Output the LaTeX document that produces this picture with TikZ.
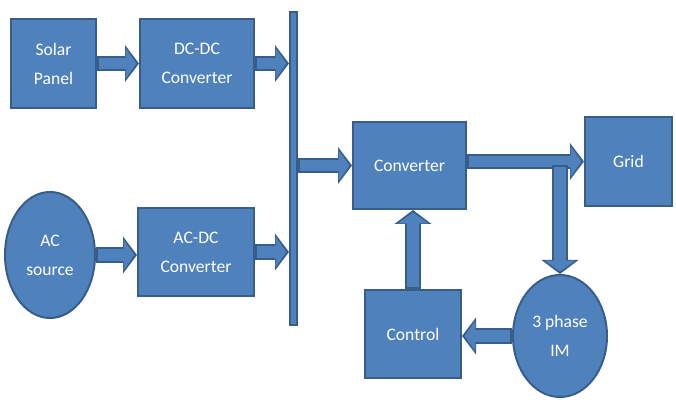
\documentclass[tikz,border=0pt]{standalone}
\usepackage{fontspec}
\setmainfont{Carlito}
\usetikzlibrary{positioning,shapes.geometric,arrows.meta}
\definecolor{boxblue}{HTML}{4F81BD}
\definecolor{edgeblue}{HTML}{385D8A}
\tikzset{
  block/.style={draw=edgeblue, line width=1pt, fill=boxblue, text=white, align=center, inner sep=0pt, font=\fontsize{8.8}{14.5}\selectfont},
  source/.style={block, ellipse},
  flowedge/.style={draw=edgeblue, line width=7.6pt, -{Triangle[length=7pt,width=18.5pt,line width=0pt]}},
  flowfill/.style={draw=boxblue, line width=5.8pt, shorten <=0.9pt, shorten >=1.3pt, -{Triangle[length=5.4pt,width=15.3pt,line width=0pt]}}
}
\newcommand{\flow}[2]{\draw[flowedge] #1 -- #2; \draw[flowfill] #1 -- #2;}

\begin{document}
\begin{tikzpicture}[x=0.5pt, y=-0.5pt]
\useasboundingbox (0,0) rectangle (676,400);
\node[block, minimum width=42.5pt, minimum height=44.5pt] (solar) at (53.5,63.5) {Solar\\Panel};
\node[block, minimum width=57pt, minimum height=44.5pt] (dcdc) at (197,63.5) {DC-DC\\Converter};
\node[source, minimum width=45pt, minimum height=63pt] (ac) at (50,255) {AC\\source};
\node[block, minimum width=58pt, minimum height=44pt] (acdc) at (196,252) {AC-DC\\Converter};
\node[block, minimum width=3.5pt, minimum height=156.5pt] (bus) at (293.5,168.5) {};
\node[block, minimum width=56.5pt, minimum height=43.5pt] (conv) at (409.5,165.5) {Converter};
\node[block, minimum width=43.5pt, minimum height=44.5pt] (grid) at (628.5,161.5) {Grid};
\node[block, minimum width=48pt, minimum height=44pt] (control) at (413,334) {Control};
\node[source, minimum width=47pt, minimum height=61pt] (im) at (560,336) {3 phase\\IM};
\coordinate[yshift=-2pt] (tap) at (grid.west -| im.north);
% power flow
\flow{(solar)}{(dcdc)}
\flow{(dcdc)}{(dcdc -| bus.west)}
\flow{(ac.east)}{(ac.east -| acdc.west)}
\flow{(acdc)}{(acdc -| bus.west)}
\flow{(bus.east |- conv)}{(conv)}
\flow{(conv.east |- grid)}{(grid.west)}
\flow{(tap)}{(im.north)}
% feedback
\flow{(im.west)}{(im.west -| control.east)}
\flow{(control.north)}{(control.north |- conv.south)}
\end{tikzpicture}
\end{document}
